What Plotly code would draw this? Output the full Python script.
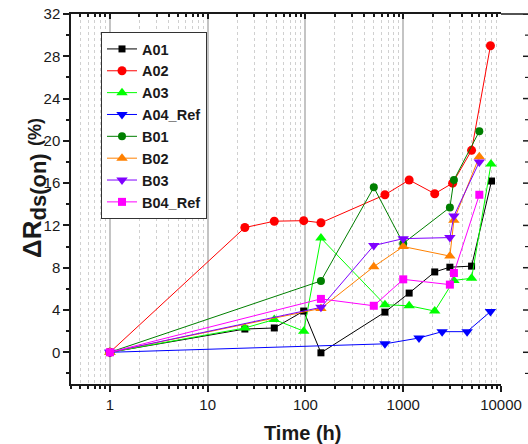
import numpy as np
import plotly.graph_objects as go

# ---- data ----
series_names = ["A01", "A02", "A03", "A04_Ref", "B01", "B02", "B03", "B04_Ref"]

t_A01 = [1, 24, 48, 96, 144, 650, 1150, 2100, 3000, 5000, 8000]
v_A01 = [0, 2.2, 2.3, 3.9, -0.05, 3.8, 5.6, 7.6, 8.05, 8.15, 16.2]

t_A02 = [1, 24, 48, 96, 144, 650, 1150, 2100, 3200, 5000, 7800]
v_A02 = [0, 11.8, 12.4, 12.45, 12.25, 14.9, 16.3, 15.0, 16.0, 19.1, 29.0]

t_A03 = [1, 24, 48, 96, 144, 650, 1150, 2100, 3300, 5000, 7900]
v_A03 = [0, 2.3, 3.1, 2.0, 10.8, 4.5, 4.4, 3.9, 6.8, 7.0, 17.8]

t_A04 = [1, 650, 1450, 2500, 4500, 7800]
v_A04 = [0, 0.8, 1.35, 1.95, 1.95, 3.85]

t_B = [1, 144, 500, 1000, 3000, 3300, 6000]
v_B01 = [0, 6.75, 15.6, 10.3, 13.7, 16.3, 20.9]
v_B02 = [0, 4.15, 8.1, 10.0, 9.1, 12.5, 18.5]
v_B03 = [0, 4.25, 10.1, 10.75, 10.85, 12.9, 18.0]
v_B04 = [0, 5.05, 4.4, 6.9, 6.4, 7.5, 14.9]

x_tickvals = [1, 10, 100, 1000, 10000]
x_ticktext = ["1", "10", "100", "1000", "10000"]
y_tickvals = [0, 4, 8, 12, 16, 20, 24, 28, 32]
y_minorvals = [-2, 2, 6, 10, 14, 18, 22, 26, 30]

# ---- styles ----
styles = [
    dict(color="#000000", symbol="square", size=7),
    dict(color="#ff0000", symbol="circle", size=9),
    dict(color="#00ff00", symbol="triangle-up", size=10),
    dict(color="#0000ff", symbol="triangle-down", size=10),
    dict(color="#007f00", symbol="circle", size=8),
    dict(color="#ff8000", symbol="triangle-up", size=10),
    dict(color="#8000ff", symbol="triangle-down", size=10),
    dict(color="#ff00ff", symbol="square", size=8),
]
data = [(t_A01, v_A01), (t_A02, v_A02), (t_A03, v_A03), (t_A04, v_A04),
        (t_B, v_B01), (t_B, v_B02), (t_B, v_B03), (t_B, v_B04)]

FONT = "Liberation Sans, Arial, sans-serif"
fig = go.Figure()
for name, (t, v), st in zip(series_names, data, styles):
    fig.add_trace(go.Scatter(
        x=t, y=v, name=name, mode="lines+markers",
        line=dict(color=st["color"], width=1),
        marker=dict(color=st["color"], symbol=st["symbol"], size=st["size"], line=dict(width=0)),
    ))

# invisible trace to hold the mirrored top axis
fig.add_trace(go.Scatter(x=[1], y=[0], xaxis="x2", yaxis="y", mode="markers",
                         marker=dict(opacity=0), showlegend=False, hoverinfo="skip"))

W, H = 528, 444
L, R, T, B = 71, 0, 14, 60
plot_w = W - L - R
plot_h = H - T - B
dom_end = (501 - L) / plot_w
xr = [np.log10(0.4), 4]
yr = [-3, 32]

fig.update_layout(
    template="none",
    width=W, height=H,
    margin=dict(l=L, r=R, t=T, b=B, autoexpand=False),
    paper_bgcolor="white", plot_bgcolor="white",
    font=dict(family=FONT, size=15, color="#1a1a1a"),
    xaxis=dict(
        type="log", range=xr, domain=[0, dom_end], automargin=False,
        tickvals=x_tickvals, ticktext=x_ticktext,
        showline=True, linecolor="#1a1a1a", linewidth=1.5,
        ticks="outside", ticklen=6, tickwidth=1.5, tickcolor="#1a1a1a",
        showgrid=True, gridcolor="#c4c4c4", gridwidth=1.5,
        minor=dict(dtick="D1", ticks="outside", ticklen=3, tickcolor="#1a1a1a",
                   showgrid=True, gridcolor="#d0d0d0", griddash="dot", gridwidth=1),
        zeroline=False, tickfont=dict(size=15),
    ),
    xaxis2=dict(
        type="log", range=xr, overlaying="x", side="top", anchor="y", automargin=False,
        showline=True, linecolor="#1a1a1a", linewidth=1.5,
        ticks="inside", ticklen=5, tickwidth=1.5, tickcolor="#1a1a1a",
        tickvals=x_tickvals, showticklabels=False, showgrid=False,
        minor=dict(dtick="D1", ticks="inside", ticklen=3, tickcolor="#1a1a1a", showgrid=False),
    ),
    yaxis=dict(
        range=yr, tickvals=y_tickvals, automargin=False,
        showline=True, linecolor="#1a1a1a", linewidth=1.5,
        ticks="outside", ticklen=6, tickwidth=1.5, tickcolor="#1a1a1a",
        minor=dict(dtick=2, ticks="outside", ticklen=3, tickcolor="#1a1a1a"),
        showgrid=False, zeroline=False, tickfont=dict(size=15),
    ),
    legend=dict(
        x=(101 - L) / plot_w, y=1 - (32 - T) / plot_h, xanchor="left", yanchor="top",
        bgcolor="white", bordercolor="#333333", borderwidth=1,
        font=dict(size=14.5, family=FONT, weight="bold"), tracegroupgap=0,
    ),
    showlegend=True,
)

# top frame extension to the right edge
fig.add_shape(type="line", xref="paper", yref="paper", x0=dom_end, x1=1, y0=1, y1=1,
              line=dict(color="#1a1a1a", width=1.5))
# inward ticks of the neighbouring frame at the right edge
for yv in y_tickvals:
    fig.add_shape(type="line", xref="paper", yref="y", x0=1 - 5 / plot_w, x1=1, y0=yv, y1=yv,
                  line=dict(color="#1a1a1a", width=1.5))
for yv in y_minorvals:
    fig.add_shape(type="line", xref="paper", yref="y", x0=1 - 3 / plot_w, x1=1, y0=yv, y1=yv,
                  line=dict(color="#1a1a1a", width=1.2))

# axis titles
fig.add_annotation(text="<b>Time (h)</b>", xref="paper", yref="paper",
                   x=(302 - L) / plot_w, y=-(433 - 384) / plot_h, xanchor="center", yanchor="middle",
                   showarrow=False, font=dict(size=20))
fig.add_annotation(
    text="<b>ΔR<sub><span style='font-size:22px'>ds(on)</span></sub> "
         "<span style='font-size:18px'>(%)</span></b>",
    xref="paper", yref="paper", textangle=-90,
    x=(34 - L) / plot_w, y=(384 - 188) / plot_h, xanchor="center", yanchor="middle",
    showarrow=False, font=dict(size=26))

fig.write_html("out.html", config={"displayModeBar": False},
               post_script="document.body.style.margin='0';document.body.style.overflow='hidden';")
